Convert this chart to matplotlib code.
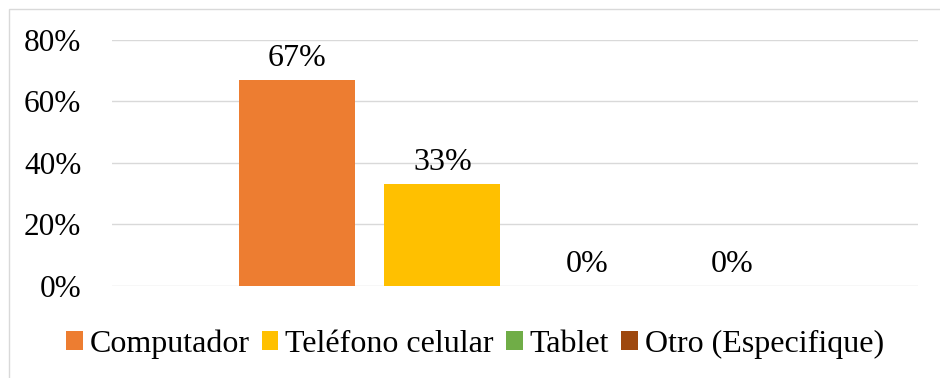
import matplotlib.pyplot as plt
from matplotlib.patches import Rectangle

# Dispositivo usado (una sola categoría, cuatro series)
series = ['Computador', 'Teléfono celular', 'Tablet', 'Otro (Especifique)']
valores = [0.67, 0.33, 0.0, 0.0]
colores = ['#ED7D31', '#FFC000', '#70AD47', '#9E480E']
yticks = [0.0, 0.2, 0.4, 0.6, 0.8]

plt.rcParams['font.family'] = ['Liberation Serif', 'DejaVu Serif']

fig = plt.figure(figsize=(9.4, 3.78), dpi=100)
ax = fig.add_axes([112 / 940, 1 - 285.7 / 378, (918 - 112) / 940, (285.7 - 39.7) / 378])

paso = 0.18
ancho = 0.144
for i, (nombre, v, c) in enumerate(zip(series, valores, colores)):
    x = (i - 1.5) * paso
    ax.bar(x, v, width=ancho, color=c, label=nombre, zorder=3)
    ax.annotate(f'{v:.0%}', (x, v), xytext=(0, 5), textcoords='offset points',
                ha='center', va='bottom', fontsize=23)

ax.set_xlim(-0.5, 0.5)
ax.set_ylim(0, 0.8)
ax.set_yticks(yticks)
ax.set_yticklabels([f'{t:.0%}' for t in yticks])
ax.set_xticks([])
ax.tick_params(axis='y', length=0, pad=22, labelsize=22.5)
ax.grid(axis='y', color='#D9D9D9', linewidth=1.0, zorder=0)
for s in ax.spines.values():
    s.set_visible(False)

leg = fig.legend(loc='center', bbox_to_anchor=(475 / 940, 1 - 344 / 378), ncol=4,
                 frameon=False, fontsize=23, handlelength=0.52, handleheight=0.52,
                 handletextpad=0.22, columnspacing=0.38, borderpad=0)

# borde del área del gráfico
fig.patches.append(Rectangle((9 / 940, -0.5), 2, 1.5 - 9 / 378, transform=fig.transFigure,
                             fill=False, edgecolor='#D9D9D9', linewidth=1.0))

fig.savefig('out.png', dpi=100)
